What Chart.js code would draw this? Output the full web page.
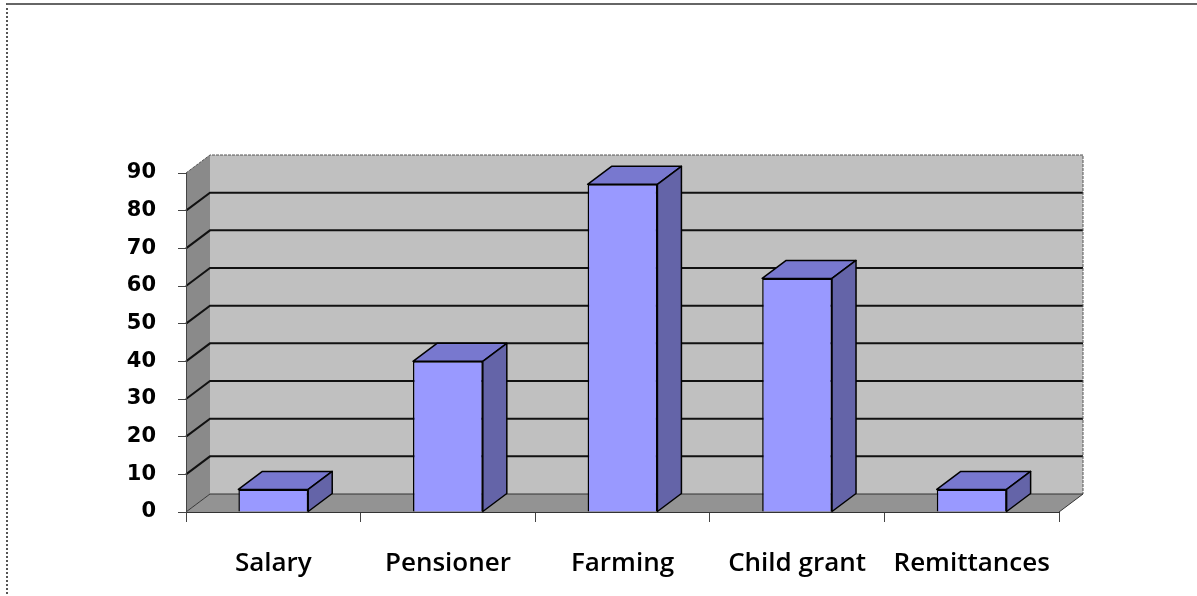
<!DOCTYPE html>
<html>
<head>
<meta charset="utf-8">
<script src="https://cdn.jsdelivr.net/npm/chart.js@4/dist/chart.umd.min.js"></script>
<style>
  body { margin: 0; background: #fff; }
  #wrap { position: relative; width: 1197px; height: 596px; }
  #frame {
    position: absolute; left: 6px; top: 3px; right: -10px; bottom: -10px;
    border-top: 2px solid #666; border-left: 2px dotted #555;
    pointer-events: none;
  }
</style>
</head>
<body>
<div id="wrap">
  <canvas id="incomeChart" width="1197" height="596"></canvas>
  <div id="frame"></div>
</div>
<script>
// Sources of household income
const categories = ['Salary', 'Pensioner', 'Farming', 'Child grant', 'Remittances'];
const counts = [6, 40, 87, 62, 6];
const yTicks = [0, 10, 20, 30, 40, 50, 60, 70, 80, 90];

// depth offset of the 3D box (pixels)
const DX = 24;
const DY = -18;

// Draws the walls and floor behind the bars
const box3d = {
    id: 'box3d',
    beforeDraw(chart) {
        const { ctx, chartArea: a, scales } = chart;
        const y = scales.y;
        ctx.save();

        // left side wall
        ctx.fillStyle = '#8a8a8a';
        ctx.beginPath();
        ctx.moveTo(a.left, a.bottom);
        ctx.lineTo(a.left + DX, a.bottom + DY);
        ctx.lineTo(a.left + DX, a.top + DY);
        ctx.lineTo(a.left, a.top);
        ctx.closePath();
        ctx.fill();

        // back wall
        ctx.fillStyle = '#c0c0c0';
        ctx.fillRect(a.left + DX, a.top + DY, a.right - a.left, a.bottom - a.top);

        // floor
        ctx.fillStyle = '#939393';
        ctx.beginPath();
        ctx.moveTo(a.left, a.bottom);
        ctx.lineTo(a.right, a.bottom);
        ctx.lineTo(a.right + DX, a.bottom + DY);
        ctx.lineTo(a.left + DX, a.bottom + DY);
        ctx.closePath();
        ctx.fill();

        // gridlines across the side wall and back wall
        ctx.strokeStyle = '#111';
        ctx.lineWidth = 2;
        yTicks.forEach((v) => {
            if (v === 0 || v === yTicks[yTicks.length - 1]) return;
            const py = y.getPixelForValue(v);
            ctx.beginPath();
            ctx.moveTo(a.left, py);
            ctx.lineTo(a.left + DX, py + DY);
            ctx.lineTo(a.right + DX, py + DY);
            ctx.stroke();
        });

        // wall edges
        ctx.strokeStyle = '#555';
        ctx.lineWidth = 1;
        ctx.setLineDash([3, 1]);
        ctx.beginPath();
        ctx.moveTo(a.left, a.top);
        ctx.lineTo(a.left + DX, a.top + DY);
        ctx.lineTo(a.right + DX, a.top + DY);
        ctx.lineTo(a.right + DX, a.bottom + DY);
        ctx.stroke();
        ctx.setLineDash([]);

        ctx.strokeStyle = '#333';
        ctx.beginPath();
        ctx.moveTo(a.left, a.bottom);
        ctx.lineTo(a.left + DX, a.bottom + DY);
        ctx.lineTo(a.right + DX, a.bottom + DY);
        ctx.moveTo(a.right, a.bottom);
        ctx.lineTo(a.right + DX, a.bottom + DY);
        ctx.stroke();

        ctx.restore();
    },
    // top and side faces of each bar
    afterDatasetsDraw(chart) {
        const { ctx } = chart;
        const meta = chart.getDatasetMeta(0);
        ctx.save();
        ctx.strokeStyle = '#000';
        ctx.lineWidth = 1.5;
        ctx.lineJoin = 'round';
        meta.data.forEach((bar) => {
            const { x, y, base, width } = bar.getProps(['x', 'y', 'base', 'width'], true);
            const l = x - width / 2;
            const r = x + width / 2;

            ctx.fillStyle = '#7878cf';
            ctx.beginPath();
            ctx.moveTo(l, y);
            ctx.lineTo(l + DX, y + DY);
            ctx.lineTo(r + DX, y + DY);
            ctx.lineTo(r, y);
            ctx.closePath();
            ctx.fill();
            ctx.stroke();

            ctx.fillStyle = '#6464a8';
            ctx.beginPath();
            ctx.moveTo(r, y);
            ctx.lineTo(r + DX, y + DY);
            ctx.lineTo(r + DX, base + DY);
            ctx.lineTo(r, base);
            ctx.closePath();
            ctx.fill();
            ctx.stroke();
        });
        ctx.restore();
    }
};

const ctx = document.getElementById('incomeChart').getContext('2d');
new Chart(ctx, {
    type: 'bar',
    data: {
        labels: categories,
        datasets: [
            {
                data: counts,
                backgroundColor: '#9999ff',
                borderColor: '#000',
                borderWidth: 1.5,
                barPercentage: 0.4,
                categoryPercentage: 1,
            },
        ],
    },
    options: {
        responsive: false,
        animation: false,
        layout: { padding: { left: 0, right: 138, top: 173, bottom: 0 } },
        plugins: {
            legend: { display: false },
            tooltip: { enabled: false },
        },
        scales: {
            x: {
                afterFit: (scale) => { scale.height = 84; },
                grid: { drawOnChartArea: false, tickLength: 10, color: '#444', offset: true },
                border: { display: true, color: '#333', width: 1 },
                ticks: {
                    color: '#000',
                    padding: 26,
                    font: { family: 'Open Sans', size: 26, weight: '600' },
                },
            },
            y: {
                min: 0,
                max: 90,
                afterFit: (scale) => { scale.width = 186; },
                grid: { drawOnChartArea: false, tickLength: 8, color: '#444' },
                border: { display: true, color: '#444', width: 1 },
                ticks: {
                    stepSize: 10,
                    color: '#000',
                    padding: 22,
                    font: { family: 'DejaVu Sans', size: 21, weight: 'bold' },
                },
            },
        },
    },
    plugins: [box3d],
});
</script>
</body>
</html>
